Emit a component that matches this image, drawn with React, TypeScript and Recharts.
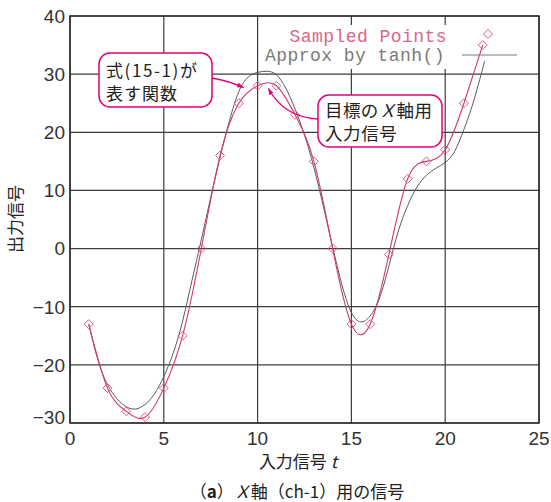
import React from 'react';
import { LineChart, Line, XAxis, YAxis, CartesianGrid, ReferenceArea } from 'recharts';

// Sampled points (pink diamonds)
const sampledT = [1, 2, 3, 4, 5, 6, 7, 8, 9, 10, 11, 12, 13, 14, 15, 16, 17, 18, 19, 20, 21, 22];
const sampledV = [-13, -24, -28, -29, -24, -15, 0, 16, 25, 28, 28, 23, 15, 0, -13, -13, -1, 12, 15, 17, 25, 35];

// Approximation by tanh() (grey curve)
const approxT = [1, 1.5, 2, 2.5, 3, 3.5, 4, 4.5, 5, 5.5, 6, 6.5, 7, 7.5, 8, 8.5, 9, 9.5, 10, 10.5, 11, 11.5, 12, 12.5, 13, 13.5, 14, 14.5, 15, 15.5, 16, 16.5, 17, 17.5, 18, 18.5, 19, 19.5, 20, 20.5, 21, 21.5, 22, 22.1];
const approxV = [-13, -19.3, -23.4, -25.8, -27.2, -27.6, -26.8, -25.0, -22.0, -18.0, -12.5, -5.5, 1.5, 8.8, 15.7, 22.0, 27.0, 29.5, 30.3, 30.5, 29.9, 27.6, 24.0, 19.5, 14.0, 7.3, 0.3, -6.3, -11.0, -12.6, -11.6, -8.5, -3.0, 3.0, 7.4, 10.6, 12.6, 13.8, 14.8, 16.7, 20.5, 25.2, 31.0, 32.3];

const xTicks = [0, 5, 10, 15, 20, 25];
const yTicks = [-30, -20, -10, 0, 10, 20, 30, 40];

const legendLabels = ['Sampled Points', 'Approx by tanh()'];

const sampledData = sampledT.map((t, i) => ({ t, v: sampledV[i] }));
const approxData = approxT.map((t, i) => ({ t, v: approxV[i] }));

const PINK = '#e4007f';
const RED = '#d2386c';
const DIAMOND = '#de5a88';
const GREY = '#5a5a5a';
const JP = '"Noto Sans CJK JP", "Noto Sans", sans-serif';
const NUM = '"Liberation Sans", Arial, sans-serif';

const fmt = (v: number) => String(v).replace('-', '\u2212');

const Diamond = (props: any) => {
  const { cx, cy } = props;
  if (cx == null || cy == null) return null;
  const s = 4.5;
  return (
    <path
      d={`M${cx},${cy - s}L${cx + s},${cy}L${cx},${cy + s}L${cx - s},${cy}Z`}
      fill="none"
      stroke={DIAMOND}
      strokeWidth={1}
    />
  );
};

const YTick = (props: any) => {
  const { x, y, payload } = props;
  const shift = payload.value === -30 ? -6 : 0;
  return (
    <text x={x} y={y + shift} dy="0.36em" textAnchor="end" fontSize={19} fontFamily={NUM} fill="#333">
      {fmt(payload.value)}
    </text>
  );
};

const XTick = (props: any) => {
  const { x, y, payload } = props;
  return (
    <text x={x} y={y} dy="0.71em" textAnchor="middle" fontSize={19} fontFamily={NUM} fill="#333">
      {fmt(payload.value)}
    </text>
  );
};

export default function App() {
  return (
    <div style={{ position: 'absolute', left: 0, top: 0, width: 551, height: 502, background: '#fff' }}>
      <LineChart
        width={551}
        height={502}
        margin={{ top: 16, right: 12, left: 0, bottom: 49 }}
      >
        <CartesianGrid stroke="#3d3d3d" strokeWidth={1.2} />
        <XAxis
          type="number"
          dataKey="t"
          domain={[0, 25]}
          ticks={xTicks}
          allowDataOverflow
          height={30}
          tickLine={false}
          axisLine={false}
          tickSize={0}
          tickMargin={9}
          tick={<XTick />}
        />
        <YAxis
          type="number"
          dataKey="v"
          domain={[-30, 40]}
          ticks={yTicks}
          allowDataOverflow
          width={70}
          tickLine={false}
          axisLine={false}
          tickSize={0}
          tickMargin={5}
          tick={<YTick />}
        />
        <ReferenceArea x1={0} x2={25} y1={-30} y2={40} fill="none" stroke="#2a2a2a" strokeWidth={1.5} ifOverflow="visible" />
        <ReferenceArea x1={10.15} x2={24.4} y1={30.9} y2={38.45} fill="#ffffff" fillOpacity={1} stroke="none" />
        <Line
          data={approxData}
          dataKey="v"
          type="natural"
          stroke={GREY}
          strokeWidth={1}
          dot={false}
          isAnimationActive={false}
        />
        <Line
          data={sampledData}
          dataKey="v"
          type="natural"
          stroke={RED}
          strokeWidth={1.1}
          dot={<Diamond />}
          isAnimationActive={false}
        />
      </LineChart>
      <svg
        width={551}
        height={502}
        style={{ position: 'absolute', left: 0, top: 0, pointerEvents: 'none' }}
      >
        <defs>
          <marker id="ah" viewBox="0 0 10 10" refX="9" refY="5" markerWidth="7" markerHeight="7" orient="auto-start-reverse" markerUnits="userSpaceOnUse">
            <path d="M0,1.5 L10,5 L0,8.5 Z" fill={PINK} />
          </marker>
        </defs>
        {/* legend */}
        <text x={447} y={41.5} textAnchor="end" fontSize={18} letterSpacing={0.45} fontFamily='"Liberation Mono", "DejaVu Sans Mono", monospace' fill="#d9678a">
          {legendLabels[0]}
        </text>
        <text x={445} y={60.5} textAnchor="end" fontSize={18} letterSpacing={0.45} fontFamily='"Liberation Mono", "DejaVu Sans Mono", monospace' fill="#7a7a7a">
          {legendLabels[1]}
        </text>
        <path d="M488,29.5 L492.5,34 L488,38.5 L483.5,34 Z" fill="none" stroke={DIAMOND} strokeWidth={1} />
        <line x1={462} y1={55} x2={517} y2={55} stroke="#7a7a7a" strokeWidth={1.2} />

        {/* callout 1 */}
        <path d="M212,78 Q229,81 243.5,87.5" fill="none" stroke={PINK} strokeWidth={1.3} markerEnd="url(#ah)" />
        <rect x={99} y={53} width={113} height={54} rx={11} ry={11} fill="#fff" stroke={PINK} strokeWidth={1.5} />
        <text x={106} y={77} fontSize={17} fontFamily={JP} fill="#222" letterSpacing={1.6}>式(15-1)が</text>
        <text x={106} y={100} fontSize={17} fontFamily={JP} fill="#222" letterSpacing={1}>表す関数</text>

        {/* callout 2 */}
        <path d="M318,119 C300,118 281,112 268.5,88.5" fill="none" stroke={PINK} strokeWidth={1.3} markerEnd="url(#ah)" />
        <rect x={318} y={95} width={124} height={52} rx={11} ry={11} fill="#fff" stroke={PINK} strokeWidth={1.5} />
        <text x={325} y={116.5} fontSize={17.5} fontFamily={JP} fill="#222" letterSpacing={0.4}>
          目標の<tspan fontStyle="italic">Ｘ</tspan>軸用
        </text>
        <text x={325} y={139.5} fontSize={17.5} fontFamily={JP} fill="#222" letterSpacing={0.6}>入力信号</text>

        {/* axis labels */}
        <text x={0} y={0} transform="translate(22,219) rotate(-90)" textAnchor="middle" fontSize={17} fontFamily={JP} fill="#222">出力信号</text>
        <text x={298} y={468} textAnchor="middle" fontSize={17} fontFamily={JP} fill="#222">
          入力信号 <tspan fontStyle="italic">t</tspan>
        </text>
        <text x={297} y={498} textAnchor="middle" fontSize={17} fontFamily={JP} fill="#222">
          （<tspan fontWeight="bold">a</tspan>）<tspan fontStyle="italic">Ｘ</tspan>軸（ch-1）用の信号
        </text>
      </svg>
    </div>
  );
}
